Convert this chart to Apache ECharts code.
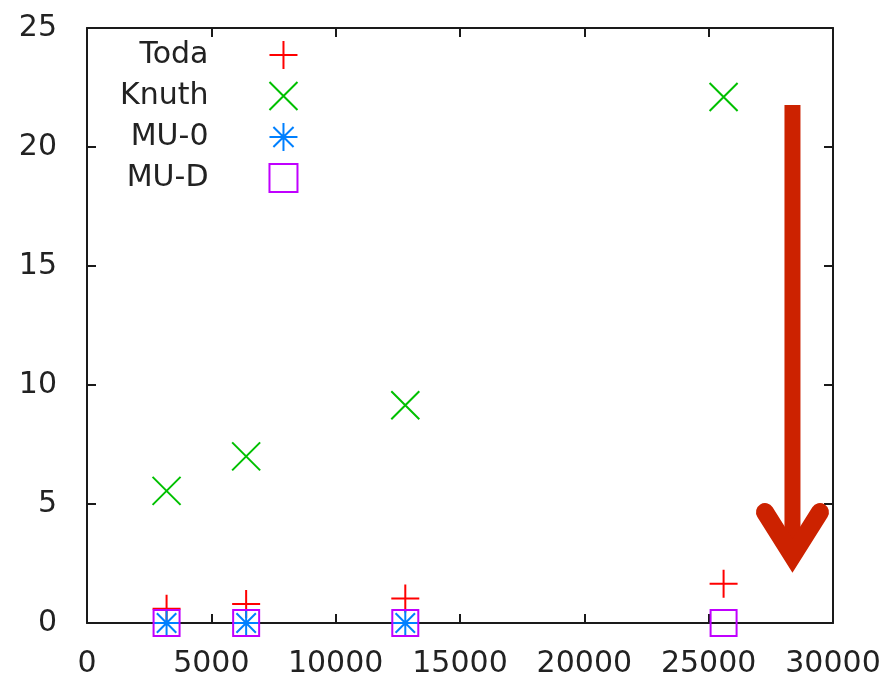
<!DOCTYPE html>
<html>
<head>
<meta charset="utf-8">
<title>Toda / Knuth / MU-0 / MU-D</title>
<script src="https://cdn.jsdelivr.net/npm/echarts@6/dist/echarts.min.js"></script>
<style>
  html, body { margin: 0; padding: 0; background: #ffffff; }
  #chart { width: 883px; height: 679px; }
</style>
</head>
<body>
<div id="chart"></div>
<script>
// Problem sizes on the x axis
const sizes = [3200, 6400, 12800, 25600];

// Measured times per method (one value per size; MU-0 has no 25600 run)
const todaValues  = [0.6, 0.8, 1.03, 1.65];
const knuthValues = [5.55, 7.0, 9.15, 22.1];
const mu0Values   = [0, 0, 0];
const muDValues   = [0, 0, 0, 0];

const seriesNames = ['Toda', 'Knuth', 'MU-0', 'MU-D'];

// Axis ranges and tick spacing
const xRange = [0, 30000];
const xStep = 5000;
const yRange = [0, 25];
const yStep = 5;

// Downward arrow annotation, in data units: shaft then arrowhead
const arrowShaft = [[28370, 21.76], [28370, 3.0]];
const arrowHead  = [[27265, 4.66], [28370, 2.82], [29475, 4.66]];

const FONT = 'DejaVu Sans';
const TEXT = '#222222';
const FRAME = '#1a1a1a';

// gnuplot-style point glyphs
const SYM_PLUS   = 'path://M0,-1L0,1M-1,0L1,0';
const SYM_CROSS  = 'path://M-1,-1L1,1M-1,1L1,-1';
const SYM_STAR   = 'path://M0,-1L0,1M-1,0L1,0M-0.72,-0.72L0.72,0.72M-0.72,0.72L0.72,-0.72M-0.12,-0.12L0.12,-0.12L0.12,0.12L-0.12,0.12Z';
const SYM_SQUARE = 'path://M-1,-1L1,-1L1,1L-1,1Z';

function pairs(values) {
  return values.map((v, i) => [sizes[i], v]);
}

function pointSeries(name, values, symbol, size, color, fill) {
  return {
    name: name,
    type: 'scatter',
    data: pairs(values),
    symbol: symbol,
    symbolSize: size,
    itemStyle: { color: fill, borderColor: color, borderWidth: 2, opacity: 1 },
    emphasis: { disabled: true }
  };
}

function frameAxis(extra) {
  return Object.assign({
    type: 'value',
    splitLine: { show: false },
    axisLine: { show: true, onZero: false, lineStyle: { color: FRAME, width: 2 } },
    axisTick: { show: true, inside: true, length: 9, lineStyle: { color: FRAME, width: 2 } }
  }, extra);
}

const plainNumber = (value) => String(value);

const chart = echarts.init(document.getElementById('chart'), null, { renderer: 'canvas' });

chart.setOption({
  animation: false,
  backgroundColor: '#ffffff',
  grid: { left: 87, right: 50, top: 28, bottom: 56, containLabel: false, outerBoundsMode: 'none' },
  xAxis: [
    frameAxis({
      position: 'bottom', min: xRange[0], max: xRange[1], interval: xStep,
      axisLabel: { show: true, margin: 26, color: TEXT, fontFamily: FONT, fontSize: 30, formatter: plainNumber }
    }),
    frameAxis({
      position: 'top', min: xRange[0], max: xRange[1], interval: xStep,
      axisLabel: { show: false }
    })
  ],
  yAxis: [
    frameAxis({
      position: 'left', min: yRange[0], max: yRange[1], interval: yStep,
      axisLabel: { show: true, margin: 30, color: TEXT, fontFamily: FONT, fontSize: 30, formatter: plainNumber }
    }),
    frameAxis({
      position: 'right', min: yRange[0], max: yRange[1], interval: yStep,
      axisLabel: { show: false }
    })
  ],
  legend: {
    orient: 'vertical',
    align: 'right',
    left: 120,
    top: 40,
    padding: 0,
    itemWidth: 140,
    itemHeight: 28,
    itemGap: 11,
    selectedMode: false,
    textStyle: { color: TEXT, fontFamily: FONT, fontSize: 30, lineHeight: 30 },
    itemStyle: { borderWidth: 2 },
    data: [
      { name: seriesNames[0], icon: SYM_PLUS },
      { name: seriesNames[1], icon: SYM_CROSS },
      { name: seriesNames[2], icon: SYM_STAR },
      { name: seriesNames[3], icon: SYM_SQUARE }
    ]
  },
  series: [
    pointSeries(seriesNames[0], todaValues, SYM_PLUS, 28, '#ff0000', 'rgba(0,0,0,0)'),
    pointSeries(seriesNames[1], knuthValues, SYM_CROSS, 28, '#00c000', 'rgba(0,0,0,0)'),
    pointSeries(seriesNames[2], mu0Values, SYM_STAR, 27, '#0080ff', '#0080ff'),
    pointSeries(seriesNames[3], muDValues, SYM_SQUARE, 26, '#c000ff', 'rgba(0,0,0,0)'),
    {
      name: 'arrow-shaft',
      type: 'line',
      data: arrowShaft,
      symbol: 'none',
      silent: true,
      z: 3,
      lineStyle: { color: '#cc2200', width: 16, cap: 'butt' }
    },
    {
      name: 'arrow-head',
      type: 'line',
      data: arrowHead,
      symbol: 'none',
      silent: true,
      z: 3,
      lineStyle: { color: '#cc2200', width: 18, cap: 'round', join: 'miter' }
    }
  ]
});
</script>
</body>
</html>
